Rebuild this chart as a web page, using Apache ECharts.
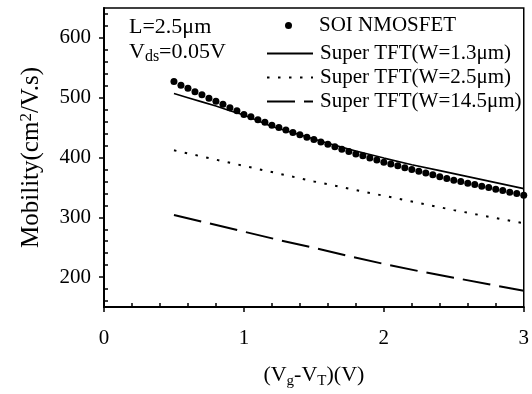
<!DOCTYPE html>
<html><head><meta charset="utf-8">
<script src="https://cdn.jsdelivr.net/npm/echarts@6/dist/echarts.min.js"></script>
<style>html,body{margin:0;padding:0;background:#fff}#c{width:532px;height:394px}</style>
</head><body><div id="c"></div>
<script>
var soiX = [0.50,0.55,0.60,0.65,0.70,0.75,0.80,0.85,0.90,0.95,1.00,1.05,1.10,1.15,1.20,1.25,1.30,1.35,1.40,1.45,1.50,1.55,1.60,1.65,1.70,1.75,1.80,1.85,1.90,1.95,2.00,2.05,2.10,2.15,2.20,2.25,2.30,2.35,2.40,2.45,2.50,2.55,2.60,2.65,2.70,2.75,2.80,2.85,2.90,2.95,3.00];
var soiY = [527,521,516,510,505,499,494,489,483,478,472,468,463,459,454,450,446,442,438,434,430,426,422,418,414,410,406,403,399,396,392,389,386,383,380,377,374,371,368,365,362,360,357,355,352,350,347,345,342,340,337];
var w13X = [0.5,0.6,0.7,0.8,0.9,1.0,1.2,1.4,1.6,1.8,2.0,2.2,2.4,2.6,2.8,3.0];
var w13Y = [507,500,493,486,478,471,452,438,424,411,399,388,378,368,358,348];
var w25X = [0.5,0.75,1.0,1.25,1.5,1.75,2.0,2.25,2.5,2.75,3.0];
var w25Y = [412,399,386,373,360,348,336,324,312,301,290];
var w145X = [0.5,0.75,1.0,1.25,1.5,1.75,2.0,2.25,2.5,2.75,3.0];
var w145Y = [304,290,276,262,249,235,222,210,199,188,177];
var seriesNames = ['SOI NMOSFET','Super TFT(W=1.3\u03bcm)','Super TFT(W=2.5\u03bcm)','Super TFT(W=14.5\u03bcm)'];
var yLabelValues = [200,300,400,500,600];
var yMinorValues = [160,180,220,240,260,280,320,340,360,380,420,440,460,480,520,540,560,580,620,640];
var xMinorValues = [0.2,0.4,0.6,0.8,1.2,1.4,1.6,1.8,2.2,2.4,2.6,2.8];

function pairs(xs, ys){ return xs.map(function(x,i){return [x, ys[i]];}); }
var F = '"Liberation Serif","Times New Roman",serif';
var chart = echarts.init(document.getElementById('c'));
var lineBase = {type:'line', symbol:'none', showSymbol:false, smooth:false, xAxisIndex:0, yAxisIndex:0};
chart.setOption({
  animation:false,
  backgroundColor:'#fff',
  grid:{left:104, right:4, top:8, bottom:87, show:true, borderColor:'#000', borderWidth:1.5, backgroundColor:'transparent'},
  xAxis:[{
    type:'value', min:0, max:3, interval:1,
    axisLine:{show:true, onZero:false, lineStyle:{color:'#000', width:2}},
    axisTick:{show:true, inside:false, length:5, lineStyle:{color:'#000', width:1.5}},
    splitLine:{show:false},
    axisLabel:{color:'#000', fontFamily:F, fontSize:21, margin:21},
    name:'{m|(V}{s|g}{m|-V}{s|T}{m|)(V)}', nameLocation:'middle', nameGap:54,
    nameTextStyle:{rich:{m:{fontFamily:F, fontSize:22, color:'#000', lineHeight:28, verticalAlign:'middle'}, s:{fontFamily:F, fontSize:15, color:'#000', lineHeight:15, verticalAlign:'bottom'}}}
  },{
    type:'value', min:0, max:3, position:'bottom',
    axisLine:{show:false}, splitLine:{show:false}, axisLabel:{show:false},
    axisTick:{show:true, inside:true, length:4, customValues:xMinorValues, lineStyle:{color:'#000', width:1.5}}
  }],
  yAxis:[{
    type:'value', min:150, max:650,
    axisLine:{show:true, onZero:false, lineStyle:{color:'#000', width:2}},
    axisTick:{show:true, inside:false, length:5, customValues:yLabelValues, lineStyle:{color:'#000', width:1.5}},
    splitLine:{show:false},
    axisLabel:{color:'#000', fontFamily:F, fontSize:21, margin:13, customValues:yLabelValues},
    name:'{m|Mobility(cm}{p|2}{m|/V.s)}', nameLocation:'middle', nameGap:60,
    nameTextStyle:{rich:{m:{fontFamily:F, fontSize:25, color:'#000', lineHeight:26, verticalAlign:'bottom'}, p:{fontFamily:F, fontSize:17, color:'#000', lineHeight:17, verticalAlign:'top'}}}
  },{
    type:'value', min:150, max:650, position:'left',
    axisLine:{show:false}, splitLine:{show:false}, axisLabel:{show:false},
    axisTick:{show:true, inside:true, length:4, customValues:yMinorValues, lineStyle:{color:'#000', width:1.5}}
  }],
  legend:[{
    data:[{name:seriesNames[0], icon:'circle'}],
    orient:'vertical', left:280, top:10, itemWidth:7, itemHeight:7, itemGap:4,
    textStyle:{fontFamily:F, fontSize:21, color:'#000', lineHeight:20, padding:[0,0,0,22]},
    selectedMode:false
  },{
    data:[seriesNames[1], seriesNames[2], seriesNames[3]],
    orient:'vertical', left:261, top:38, itemWidth:46, itemHeight:14, itemGap:3,
    itemStyle:{opacity:0, borderWidth:0},
    textStyle:{fontFamily:F, fontSize:21, color:'#000', lineHeight:20, padding:[0,0,0,2]},
    selectedMode:false
  }],
  graphic:[
    {type:'text', left:129, top:16, style:{text:'L=2.5\u03bcm', font:'22px "Liberation Serif",serif', fill:'#000'}},
    {type:'text', left:129, top:41, style:{text:'{m|V}{s|ds}{m|=0.05V}', fill:'#000',
      rich:{m:{fontFamily:F, fontSize:22, lineHeight:26, verticalAlign:'middle', fill:'#000'}, s:{fontFamily:F, fontSize:16, lineHeight:16, verticalAlign:'bottom', fill:'#000'}}}}
  ],
  series:[
    {name:seriesNames[0], type:'scatter', symbol:'circle', symbolSize:7, itemStyle:{color:'#000', opacity:1}, data:pairs(soiX, soiY), z:3},
    Object.assign({}, lineBase, {name:seriesNames[1], lineStyle:{color:'#000', width:1.6, type:'solid'}, itemStyle:{color:'#000'}, data:pairs(w13X, w13Y)}),
    Object.assign({}, lineBase, {name:seriesNames[2], lineStyle:{color:'#000', width:2, type:[2.5,8.5]}, itemStyle:{color:'#000'}, data:pairs(w25X, w25Y)}),
    Object.assign({}, lineBase, {name:seriesNames[3], lineStyle:{color:'#000', width:2, type:[28,9]}, itemStyle:{color:'#000'}, data:pairs(w145X, w145Y)})
  ]
});
</script></body></html>
